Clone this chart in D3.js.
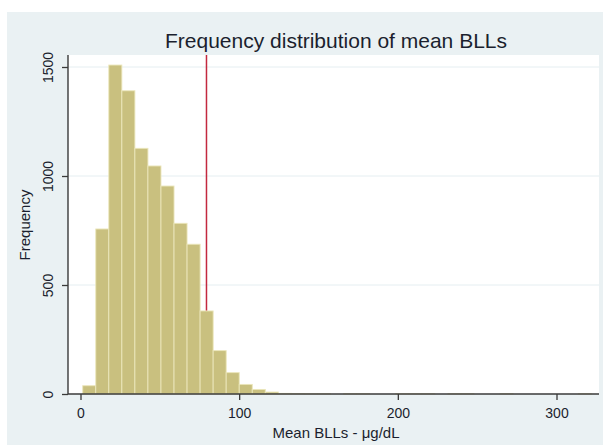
<!DOCTYPE html>
<html>
<head>
<meta charset="utf-8">
<script src="https://cdn.jsdelivr.net/npm/d3@7"></script>
<style>
  body { margin: 0; background: #ffffff; }
  svg text { font-family: "Liberation Sans", Arial, sans-serif; fill: #1b1f2e; }
</style>
</head>
<body>
<script>
// histogram of mean BLLs, counts per bin
var counts = [38, 757, 1509, 1391, 1127, 1046, 954, 783, 687, 381,
              199, 98, 44, 21, 9, 3, 2, 1, 1, 0,
              1, 1, 0, 0, 1, 1, 1, 0, 1, 1,
              0, 0, 1, 0, 0, 0, 0, 0, 1];
var binStart = 1.4;
var binWidth = 8.22;
var refValue = 79.4;           // red reference line
var xTicks = [0, 100, 200, 300];
var yTicks = [0, 500, 1000, 1500];
var gridTicks = [500, 1000, 1500];

var width = 610, height = 448;
var svg = d3.select("body").append("svg").attr("width", width).attr("height", height);

// graph region background
svg.append("rect").attr("x", 7).attr("y", 12).attr("width", 596).attr("height", 433)
    .attr("fill", "#eaf1f3");

var plot = {left: 68, right: 599, top: 55, bottom: 394};
svg.append("rect")
    .attr("x", plot.left).attr("y", plot.top)
    .attr("width", plot.right - plot.left).attr("height", plot.bottom - plot.top)
    .attr("fill", "#ffffff");

var x = d3.scaleLinear().domain([0, 300]).range([80.5, 556.5]);
var y = d3.scaleLinear().domain([0, 1500]).range([plot.bottom, 67]);

// grid
svg.append("g").selectAll("line").data(gridTicks).enter().append("line")
    .attr("x1", plot.left).attr("x2", plot.right)
    .attr("y1", function(d){ return y(d); }).attr("y2", function(d){ return y(d); })
    .attr("stroke", "#e5eef1").attr("stroke-width", 1);

// reference line (drawn under the bars)
svg.append("line")
    .attr("x1", x(refValue)).attr("x2", x(refValue))
    .attr("y1", plot.top).attr("y2", plot.bottom)
    .attr("stroke", "#c3283f").attr("stroke-width", 1.5);

// bars
svg.append("g").selectAll("rect").data(counts).enter().append("rect")
    .attr("x", function(d, i){ return x(binStart + i * binWidth); })
    .attr("width", function(d, i){ return x(binStart + (i + 1) * binWidth) - x(binStart + i * binWidth); })
    .attr("y", function(d){ return y(d); })
    .attr("height", function(d){ return y(0) - y(d); })
    .attr("fill", "#c9c07f")
    .attr("stroke", "#ebe6bb")
    .attr("stroke-width", 0.9);

// axes
var xAxis = svg.append("g")
    .attr("transform", "translate(0," + plot.bottom + ")")
    .call(d3.axisBottom(x).tickValues(xTicks).tickSize(6).tickPadding(4));
xAxis.select(".domain").attr("d", "M" + plot.left + ",0H" + plot.right);

var yAxis = svg.append("g")
    .attr("transform", "translate(" + plot.left + ",0)")
    .call(d3.axisLeft(y).tickValues(yTicks).tickSize(6).tickFormat(d3.format("d")));
yAxis.select(".domain").attr("d", "M0," + plot.top + "V" + plot.bottom);

svg.selectAll(".domain").attr("stroke", "#3a3a3a").attr("stroke-width", 1.4);
svg.selectAll(".tick line").attr("stroke", "#3a3a3a").attr("stroke-width", 1.3);

xAxis.selectAll(".tick text")
    .attr("y", 14).attr("dy", "0.71em")
    .style("font-size", "14px").style("font-family", "Liberation Sans, Arial, sans-serif")
    .attr("fill", "#1b1f2e");

yAxis.selectAll(".tick text")
    .attr("x", null).attr("dy", null)
    .attr("transform", "translate(-15,0) rotate(-90)")
    .attr("text-anchor", "middle")
    .style("font-size", "14px").style("font-family", "Liberation Sans, Arial, sans-serif")
    .attr("fill", "#1b1f2e");

// titles
svg.append("text")
    .attr("x", 336).attr("y", 48)
    .attr("text-anchor", "middle")
    .style("font-size", "21px")
    .text("Frequency distribution of mean BLLs");

svg.append("text")
    .attr("x", 336).attr("y", 438)
    .attr("text-anchor", "middle")
    .style("font-size", "15px")
    .text("Mean BLLs - \u03bcg/dL");

svg.append("text")
    .attr("transform", "translate(30,225) rotate(-90)")
    .attr("text-anchor", "middle")
    .style("font-size", "15px")
    .text("Frequency");
</script>
</body>
</html>
